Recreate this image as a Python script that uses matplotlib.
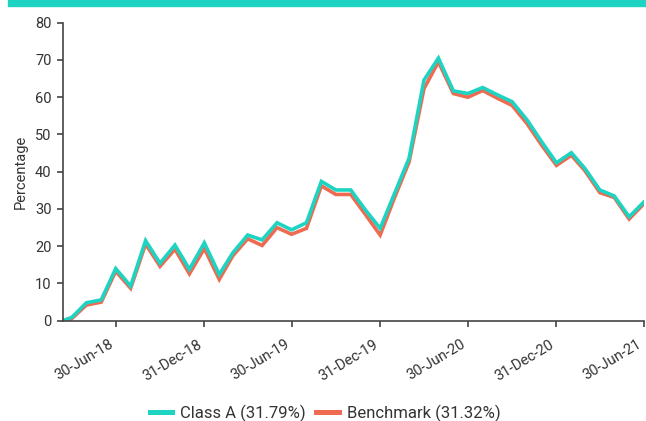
import numpy as np
import pandas as pd
import matplotlib
matplotlib.use('Agg')
import matplotlib.pyplot as plt
from matplotlib.transforms import ScaledTranslation

plt.rcParams['font.family'] = ['Roboto', 'DejaVu Sans']

# inception date followed by month ends
dates = [pd.Timestamp('2018-03-12')] + list(pd.date_range('2018-03-31', '2021-06-30', freq='ME'))

class_a = [0, 0.9, 4.8, 5.6, 14.0, 9.3, 21.5, 15.4, 20.3, 13.8,
           20.9, 12.4, 18.2, 23.0, 21.7, 26.3, 24.4, 26.3, 37.4, 35.1,
           35.1, 29.8, 24.8, 34.5, 43.6, 64.6, 70.5, 61.7, 61.0, 62.6,
           60.6, 58.8, 53.9, 48.1, 42.4, 45.1, 40.9, 35.1, 33.5, 27.9,
           31.79]
benchmark = [0, 0.6, 4.2, 5.0, 13.3, 8.7, 20.6, 14.6, 19.2, 12.6,
             19.4, 11.1, 17.4, 22.0, 20.2, 25.0, 23.2, 24.8, 36.2, 33.9,
             33.9, 28.6, 23.0, 33.4, 42.6, 62.3, 69.5, 61.0, 60.0, 61.8,
             59.7, 57.8, 52.9, 47.2, 41.7, 44.4, 40.3, 34.4, 33.1, 27.3,
             31.32]
tick_dates = ['2018-06-30', '2018-12-31', '2019-06-30', '2019-12-31',
              '2020-06-30', '2020-12-31', '2021-06-30']
tick_labels = ['30-Jun-18', '31-Dec-18', '30-Jun-19', '31-Dec-19',
               '30-Jun-20', '31-Dec-20', '30-Jun-21']

teal = '#1dd3c2'
red = '#ee6a50'
dark = '#333333'

fig = plt.figure(figsize=(6.46, 4.21), dpi=100)
ax = fig.add_axes([0.0971, 0.2382, 0.8992, 0.7078])

# teal band at the top
fig.patches.append(plt.Rectangle((8 / 646, 1 - 6 / 421), 1, 6 / 421,
                                 transform=fig.transFigure, color=teal, zorder=0))

ax.plot(dates, benchmark, color=red, lw=2.6, solid_joinstyle='miter', label='Benchmark (31.32%)')
ax.plot(dates, class_a, color=teal, lw=2.6, solid_joinstyle='miter', label='Class A (31.79%)')

ax.set_xlim(dates[0], dates[-1])
ax.set_ylim(0, 80)
ax.set_yticks(np.arange(0, 81, 10))
ax.set_xticks(pd.to_datetime(tick_dates))
ax.set_xticklabels(tick_labels, rotation=31, ha='right', fontsize=10.5, color=dark)
for lab in ax.get_xticklabels():
    lab.set_transform(lab.get_transform() + ScaledTranslation(5 / 100, 0, fig.dpi_scale_trans))

ax.tick_params(axis='x', length=4, width=1.2, color='#444444', pad=8)
ax.tick_params(axis='y', length=4, width=1.2, color='#444444', labelsize=10.5, labelcolor=dark, pad=4)
ax.set_ylabel('Percentage', fontsize=10.5, color=dark, labelpad=5)

for s in ['top', 'right']:
    ax.spines[s].set_visible(False)
for s in ['left', 'bottom']:
    ax.spines[s].set_color('#444444')
    ax.spines[s].set_linewidth(1.2)

h, l = ax.get_legend_handles_labels()
leg = fig.legend(h[::-1], l[::-1], loc='center', bbox_to_anchor=(0.503, 1 - 413 / 421),
                 ncol=2, frameon=False, fontsize=12, handlelength=1.36,
                 columnspacing=0.6, handletextpad=0.48)
for line in leg.get_lines():
    line.set_linewidth(3.6)
for t in leg.get_texts():
    t.set_color(dark)

fig.savefig('out.png', dpi=100)
